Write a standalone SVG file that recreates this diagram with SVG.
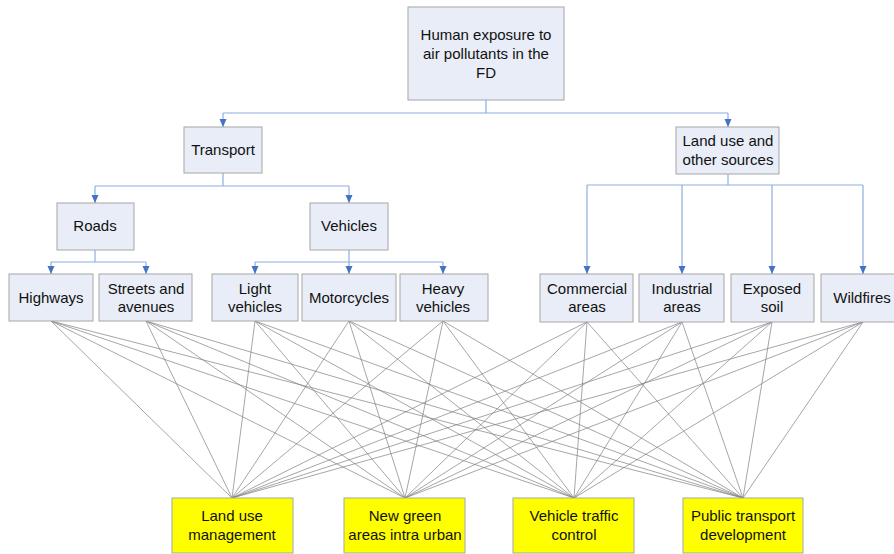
<svg xmlns="http://www.w3.org/2000/svg" width="894" height="554" viewBox="0 0 894 554">
<style>
.n{fill:#E8EDF7;stroke:#A6A6A6;stroke-width:1}
.y{fill:#FFFF00;stroke:#A6A6A6;stroke-width:1}
.t{font-family:"Liberation Sans",Arial,sans-serif;font-size:15px;fill:#111;text-anchor:middle}
.b{fill:none;stroke:#8EADE0;stroke-width:1.2}
.g{stroke:#7F7F7F;stroke-width:0.7;fill:none}
</style>
<defs>
<marker id="a" viewBox="0 0 8 8" refX="8" refY="4" markerWidth="8" markerHeight="8" markerUnits="userSpaceOnUse" orient="auto">
<path d="M0,0.5 L8,4 L0,7.5 Z" fill="#4472C4"/>
</marker>
</defs>
<rect width="894" height="554" fill="#fff"/>
<g id="connectors">
<g class="b">
<polyline points="486,100 486,113"/>
<polyline points="223,113 728,113"/>
<polyline points="223,113 223,127" marker-end="url(#a)"/>
<polyline points="728,113 728,127" marker-end="url(#a)"/>
<polyline points="223,173 223,186"/>
<polyline points="95,186 349,186"/>
<polyline points="95,186 95,203" marker-end="url(#a)"/>
<polyline points="349,186 349,203" marker-end="url(#a)"/>
<polyline points="95,250 95,262"/>
<polyline points="51,262 146,262"/>
<polyline points="51,262 51,274" marker-end="url(#a)"/>
<polyline points="146,262 146,274" marker-end="url(#a)"/>
<polyline points="349,250 349,262"/>
<polyline points="255,262 443,262"/>
<polyline points="255,262 255,274" marker-end="url(#a)"/>
<polyline points="349,262 349,274" marker-end="url(#a)"/>
<polyline points="443,262 443,274" marker-end="url(#a)"/>
<polyline points="728,174 728,185"/>
<polyline points="587,185 863,185"/>
<polyline points="587,185 587,274" marker-end="url(#a)"/>
<polyline points="682,185 682,274" marker-end="url(#a)"/>
<polyline points="772,185 772,274" marker-end="url(#a)"/>
<polyline points="863,185 863,274" marker-end="url(#a)"/>
</g>
<g class="g">
<path d="M51,321L232,498M51,321L405,498M51,321L574,498M51,321L743,498"/>
<path d="M146,321L232,498M146,321L405,498M146,321L574,498M146,321L743,498"/>
<path d="M255,321L232,498M255,321L405,498M255,321L574,498M255,321L743,498"/>
<path d="M349,321L232,498M349,321L405,498M349,321L574,498M349,321L743,498"/>
<path d="M443,321L232,498M443,321L405,498M443,321L574,498M443,321L743,498"/>
<path d="M587,322L232,498M587,322L405,498M587,322L574,498M587,322L743,498"/>
<path d="M682,322L232,498M682,322L405,498M682,322L574,498M682,322L743,498"/>
<path d="M772,322L232,498M772,322L405,498M772,322L574,498M772,322L743,498"/>
<path d="M863,322L232,498M863,322L405,498M863,322L574,498M863,322L743,498"/>
</g>
</g>
<g id="root"><rect class="n" x="408" y="7" width="156" height="93"/><text class="t" x="486" y="40">Human exposure to</text><text class="t" x="486" y="59">air pollutants in the</text><text class="t" x="486" y="78">FD</text></g>
<g id="transport"><rect class="n" x="184" y="127" width="78" height="46"/><text class="t" x="223" y="155">Transport</text></g>
<g id="landuse"><rect class="n" x="676" y="127" width="103" height="47"/><text class="t" x="728" y="146">Land use and</text><text class="t" x="728" y="165">other sources</text></g>
<g id="roads"><rect class="n" x="57" y="203" width="77" height="47"/><text class="t" x="95" y="231">Roads</text></g>
<g id="vehicles"><rect class="n" x="310" y="203" width="78" height="47"/><text class="t" x="349" y="231">Vehicles</text></g>
<g id="highways"><rect class="n" x="9" y="274" width="84" height="47"/><text class="t" x="51" y="303">Highways</text></g>
<g id="streets"><rect class="n" x="99" y="274" width="93" height="47"/><text class="t" x="146" y="294">Streets and</text><text class="t" x="146" y="312">avenues</text></g>
<g id="light"><rect class="n" x="212" y="274" width="86" height="47"/><text class="t" x="255" y="294">Light</text><text class="t" x="255" y="312">vehicles</text></g>
<g id="motorcycles"><rect class="n" x="302" y="274" width="94" height="47"/><text class="t" x="349" y="303">Motorcycles</text></g>
<g id="heavy"><rect class="n" x="400" y="274" width="88" height="47"/><text class="t" x="443" y="294">Heavy</text><text class="t" x="443" y="312">vehicles</text></g>
<g id="commercial"><rect class="n" x="540" y="274" width="93" height="48"/><text class="t" x="587" y="294">Commercial</text><text class="t" x="587" y="312">areas</text></g>
<g id="industrial"><rect class="n" x="639" y="274" width="85" height="48"/><text class="t" x="682" y="294">Industrial</text><text class="t" x="682" y="312">areas</text></g>
<g id="exposed"><rect class="n" x="731" y="274" width="83" height="48"/><text class="t" x="772" y="294">Exposed</text><text class="t" x="772" y="312">soil</text></g>
<g id="wildfires"><rect class="n" x="821" y="274" width="84" height="48"/><text class="t" x="862" y="303">Wildfires</text></g>
<g id="landmgmt"><rect class="y" x="172" y="498" width="121" height="55"/><text class="t" x="232" y="521">Land use</text><text class="t" x="232" y="540">management</text></g>
<g id="green"><rect class="y" x="344" y="498" width="121" height="55"/><text class="t" x="405" y="521">New green</text><text class="t" x="405" y="540">areas intra urban</text></g>
<g id="traffic"><rect class="y" x="513" y="498" width="121" height="55"/><text class="t" x="574" y="521">Vehicle traffic</text><text class="t" x="574" y="540">control</text></g>
<g id="public"><rect class="y" x="683" y="498" width="120" height="55"/><text class="t" x="743" y="521">Public transport</text><text class="t" x="743" y="540">development</text></g>
</svg>
